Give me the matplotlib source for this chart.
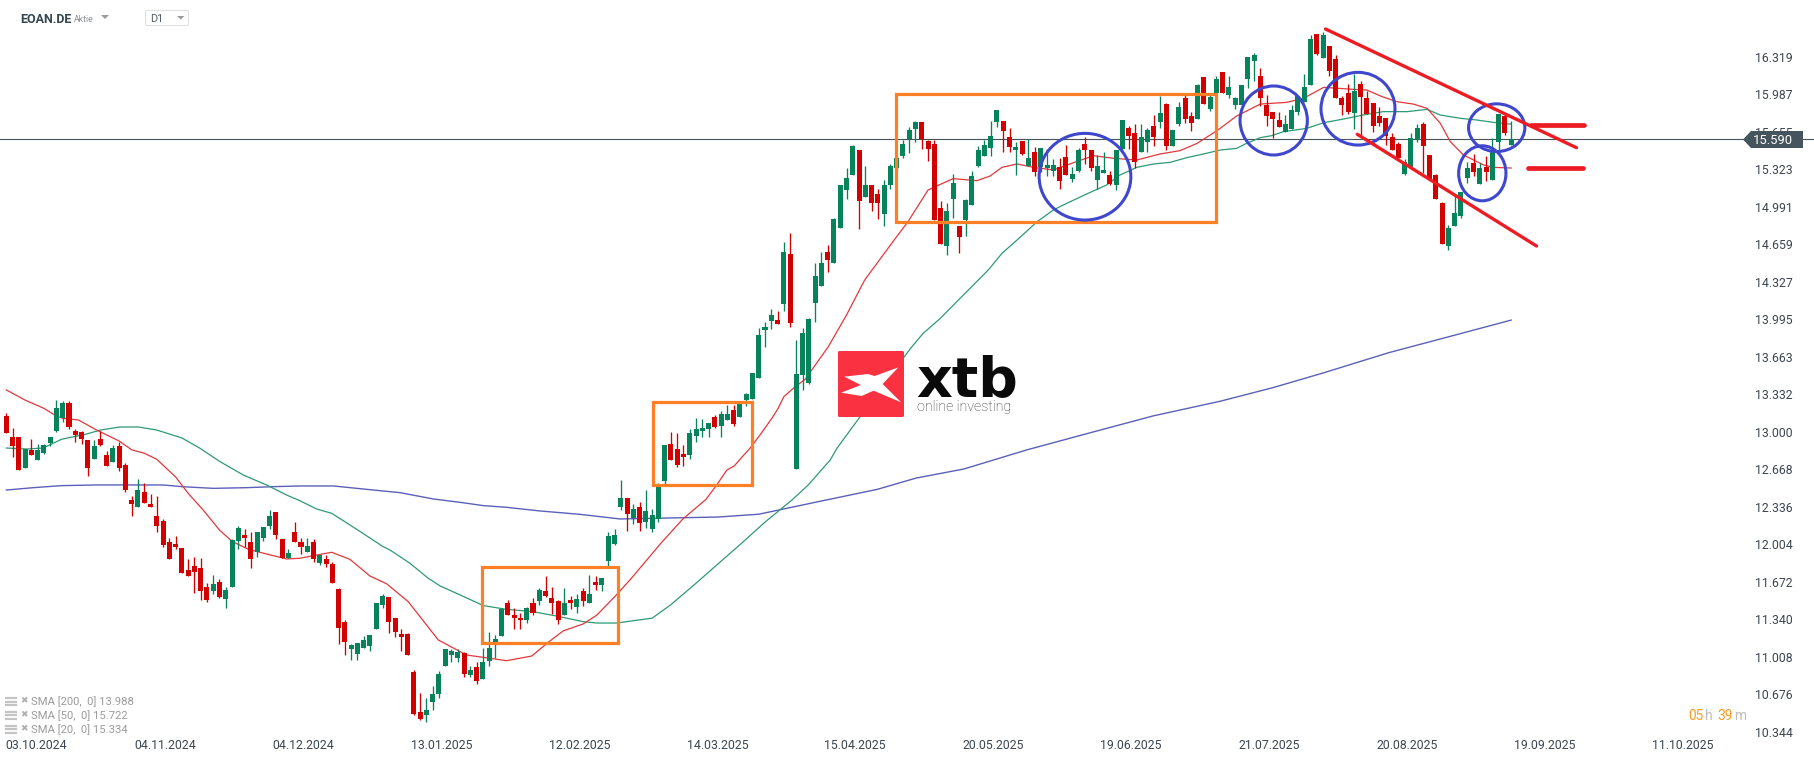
import matplotlib
matplotlib.use("Agg")
import matplotlib.pyplot as plt
from matplotlib.lines import Line2D
from matplotlib.patches import Ellipse, FancyBboxPatch, Polygon, Rectangle
from matplotlib.transforms import Affine2D

plt.rcParams['font.family'] = ['Roboto', 'DejaVu Sans']

# daily candles
opens = [13.14, 12.95, 12.95, 12.68, 12.84, 12.75, 12.81, 12.90, 13.01, 13.12,
         13.25, 13.01, 13.00, 12.93, 12.76, 12.94, 12.79, 12.73, 12.87, 12.71,
         12.40, 12.33, 12.47, 12.36, 12.25, 12.21, 12.02, 12.01, 11.97, 11.78,
         11.81, 11.79, 11.63, 11.59, 11.67, 11.52, 11.63, 12.03, 12.09, 12.02,
         11.94, 12.06, 12.17, 12.29, 12.05, 11.88, 12.11, 12.02, 11.94, 12.02,
         11.84, 11.87, 11.83, 11.61, 11.32, 11.08, 11.03, 11.09, 11.10, 11.25,
         11.47, 11.54, 11.35, 11.21, 11.21, 10.87, 10.52, 10.49, 10.61, 10.68,
         10.93, 11.02, 11.00, 11.04, 10.85, 10.92, 10.81, 10.97, 11.14, 11.19,
         11.48, 11.38, 11.35, 11.33, 11.48, 11.50, 11.59, 11.53, 11.50, 11.38,
         11.51, 11.45, 11.59, 11.48, 11.67, 11.64, 11.86, 12.01, 12.33, 12.41,
         12.24, 12.33, 12.20, 12.14, 12.23, 12.56, 12.89, 12.85, 12.80, 12.79,
         12.96, 13.01, 13.02, 13.13, 13.05, 13.10, 13.19, 13.13, 13.28, 13.29,
         13.48, 13.90, 13.98, 13.99, 14.13, 14.57, 12.67, 13.50, 13.43, 14.14,
         14.29, 14.59, 14.49, 14.80, 15.14, 15.27, 15.49, 15.08, 15.18, 15.10,
         14.93, 15.18, 15.33, 15.44, 15.59, 15.68, 15.74, 15.57, 15.55, 14.98,
         14.64, 15.06, 14.82, 14.87, 15.01, 15.35, 15.44, 15.51, 15.74, 15.75,
         15.61, 15.49, 15.57, 15.35, 15.48, 15.34, 15.33, 15.31, 15.34, 15.43,
         15.24, 15.31, 15.55, 15.49, 15.23, 15.29, 15.27, 15.18, 15.50, 15.69,
         15.64, 15.48, 15.56, 15.71, 15.74, 15.90, 15.53, 15.72, 15.95, 15.79,
         15.77, 16.14, 15.86, 16.00, 16.18, 15.98, 15.89, 15.89, 16.12, 16.28,
         16.15, 15.89, 15.83, 15.76, 15.65, 15.68, 15.83, 15.92, 16.07, 16.52,
         16.31, 16.41, 16.30, 15.95, 16.00, 15.82, 16.08, 15.95, 15.91, 15.79,
         15.78, 15.61, 15.55, 15.28, 15.34, 15.58, 15.72, 15.45, 15.27, 15.02,
         14.64, 14.82, 14.91, 15.25, 15.38, 15.19, 15.34, 15.23, 15.56, 15.79,
         15.54]
highs = [13.17, 13.03, 12.95, 12.85, 12.94, 12.89, 12.89, 12.95, 13.28, 13.27,
         13.27, 13.02, 13.01, 12.93, 12.93, 13.01, 12.83, 12.88, 12.91, 12.72,
         12.43, 12.58, 12.55, 12.45, 12.43, 12.23, 12.06, 12.08, 11.97, 11.87,
         11.89, 11.88, 11.66, 11.73, 11.70, 11.63, 12.05, 12.17, 12.14, 12.11,
         12.11, 12.16, 12.31, 12.29, 12.05, 11.96, 12.20, 12.06, 12.06, 12.05,
         11.91, 11.91, 11.85, 11.62, 11.33, 11.12, 11.13, 11.19, 11.20, 11.48,
         11.56, 11.54, 11.35, 11.25, 11.22, 10.89, 10.69, 10.64, 10.75, 10.88,
         11.08, 11.08, 11.08, 11.05, 10.93, 10.96, 11.09, 11.23, 11.20, 11.44,
         11.51, 11.44, 11.40, 11.45, 11.53, 11.62, 11.72, 11.63, 11.51, 11.62,
         11.55, 11.56, 11.62, 11.73, 11.72, 11.71, 12.11, 12.14, 12.57, 12.41,
         12.36, 12.38, 12.48, 12.32, 12.55, 12.88, 13.00, 12.99, 12.88, 13.02,
         13.12, 13.11, 13.08, 13.15, 13.18, 13.24, 13.24, 13.26, 13.34, 13.52,
         13.92, 13.97, 14.09, 14.07, 14.68, 14.76, 13.81, 13.92, 14.01, 14.49,
         14.59, 14.65, 14.89, 15.18, 15.33, 15.54, 15.49, 15.35, 15.18, 15.15,
         15.23, 15.37, 15.45, 15.58, 15.70, 15.75, 15.74, 15.58, 15.58, 15.04,
         15.02, 15.28, 14.82, 15.06, 15.31, 15.53, 15.58, 15.75, 15.85, 15.75,
         15.69, 15.56, 15.57, 15.59, 15.52, 15.51, 15.50, 15.41, 15.42, 15.54,
         15.34, 15.51, 15.61, 15.49, 15.45, 15.48, 15.31, 15.49, 15.76, 15.71,
         15.72, 15.72, 15.69, 15.80, 15.97, 15.91, 15.67, 15.92, 15.98, 15.83,
         16.08, 16.14, 15.98, 16.15, 16.18, 16.15, 15.96, 16.07, 16.32, 16.35,
         16.22, 15.98, 15.83, 15.83, 15.80, 15.89, 15.97, 16.17, 16.51, 16.52,
         16.54, 16.41, 16.33, 15.97, 16.08, 16.17, 16.10, 16.02, 15.91, 15.87,
         15.78, 15.64, 15.56, 15.41, 15.64, 15.72, 15.74, 15.45, 15.28, 15.03,
         14.83, 15.09, 15.12, 15.39, 15.46, 15.38, 15.44, 15.60, 15.81, 15.81,
         15.75]
lows = [12.99, 12.78, 12.66, 12.68, 12.79, 12.75, 12.80, 12.87, 13.00, 13.09,
        13.02, 12.91, 12.89, 12.61, 12.76, 12.87, 12.70, 12.73, 12.65, 12.47,
        12.25, 12.33, 12.37, 12.33, 12.11, 11.98, 11.87, 11.96, 11.75, 11.72,
        11.57, 11.51, 11.49, 11.56, 11.53, 11.44, 11.63, 11.96, 11.98, 11.79,
        11.89, 12.03, 12.14, 12.05, 11.88, 11.88, 12.02, 11.92, 11.94, 11.85,
        11.82, 11.80, 11.66, 11.12, 11.02, 10.98, 10.98, 11.09, 11.06, 11.25,
        11.44, 11.22, 11.18, 11.06, 11.02, 10.49, 10.45, 10.43, 10.54, 10.64,
        10.93, 10.96, 10.96, 10.83, 10.83, 10.77, 10.81, 10.93, 11.00, 11.19,
        11.38, 11.25, 11.25, 11.31, 11.38, 11.47, 11.54, 11.39, 11.30, 11.38,
        11.43, 11.40, 11.46, 11.48, 11.60, 11.59, 11.81, 12.00, 12.31, 12.12,
        12.18, 12.12, 12.15, 12.11, 12.20, 12.54, 12.75, 12.69, 12.70, 12.76,
        12.91, 12.95, 12.95, 13.03, 12.95, 13.10, 13.05, 13.13, 13.23, 13.29,
        13.48, 13.75, 13.91, 13.95, 14.07, 13.93, 12.67, 13.37, 13.42, 13.97,
        14.29, 14.41, 14.49, 14.80, 15.06, 15.27, 14.79, 15.08, 14.95, 14.88,
        14.82, 15.15, 15.30, 15.42, 15.47, 15.56, 15.50, 15.40, 14.87, 14.66,
        14.56, 14.89, 14.58, 14.73, 15.01, 15.34, 15.44, 15.44, 15.70, 15.48,
        15.48, 15.27, 15.45, 15.35, 15.26, 15.30, 15.26, 15.26, 15.15, 15.27,
        15.21, 15.30, 15.37, 15.31, 15.15, 15.29, 15.18, 15.14, 15.49, 15.50,
        15.33, 15.48, 15.48, 15.53, 15.69, 15.49, 15.53, 15.71, 15.73, 15.66,
        15.77, 15.90, 15.84, 16.00, 16.00, 15.95, 15.86, 15.89, 16.04, 16.10,
        15.88, 15.71, 15.60, 15.70, 15.65, 15.68, 15.80, 15.92, 16.07, 16.33,
        16.31, 16.15, 15.95, 15.80, 15.81, 15.68, 15.63, 15.81, 15.65, 15.71,
        15.54, 15.49, 15.42, 15.27, 15.34, 15.56, 15.29, 15.23, 15.06, 14.66,
        14.61, 14.82, 14.89, 15.20, 15.26, 15.19, 15.22, 15.23, 15.49, 15.63,
        15.54]
closes = [12.99, 12.87, 12.66, 12.85, 12.79, 12.84, 12.88, 12.95, 13.21, 13.25,
          13.04, 12.97, 12.94, 12.68, 12.87, 12.88, 12.70, 12.86, 12.68, 12.48,
          12.36, 12.48, 12.37, 12.33, 12.17, 12.00, 11.87, 11.98, 11.75, 11.72,
          11.76, 11.59, 11.51, 11.65, 11.54, 11.60, 12.04, 12.15, 12.06, 11.87,
          12.11, 12.16, 12.25, 12.09, 11.88, 11.93, 12.02, 11.98, 11.99, 11.87,
          11.91, 11.83, 11.66, 11.26, 11.14, 11.11, 11.13, 11.16, 11.20, 11.48,
          11.55, 11.32, 11.23, 11.18, 11.02, 10.50, 10.46, 10.54, 10.68, 10.86,
          11.08, 11.06, 11.05, 10.86, 10.89, 10.79, 10.96, 11.09, 11.17, 11.43,
          11.38, 11.35, 11.33, 11.44, 11.40, 11.60, 11.55, 11.48, 11.33, 11.48,
          11.48, 11.52, 11.50, 11.56, 11.64, 11.71, 12.08, 12.09, 12.41, 12.27,
          12.32, 12.19, 12.30, 12.26, 12.51, 12.88, 12.75, 12.71, 12.78, 12.99,
          13.02, 13.03, 13.08, 13.04, 13.16, 13.16, 13.07, 13.25, 13.33, 13.52,
          13.86, 13.93, 14.03, 13.95, 14.59, 13.96, 13.51, 13.87, 14.00, 14.38,
          14.49, 14.52, 14.88, 15.18, 15.25, 15.53, 15.04, 15.18, 15.02, 15.02,
          15.18, 15.35, 15.42, 15.55, 15.67, 15.74, 15.59, 15.50, 14.87, 14.66,
          14.95, 15.20, 14.72, 15.05, 15.26, 15.49, 15.54, 15.62, 15.85, 15.66,
          15.52, 15.52, 15.46, 15.42, 15.30, 15.51, 15.36, 15.36, 15.22, 15.27,
          15.28, 15.49, 15.49, 15.33, 15.35, 15.32, 15.19, 15.49, 15.76, 15.62,
          15.39, 15.61, 15.67, 15.61, 15.82, 15.53, 15.67, 15.87, 15.77, 15.73,
          16.07, 15.90, 15.96, 16.12, 16.00, 16.05, 15.95, 16.07, 16.32, 16.33,
          15.95, 15.79, 15.77, 15.70, 15.72, 15.85, 15.97, 16.05, 16.48, 16.34,
          16.51, 16.19, 15.95, 15.89, 15.83, 16.02, 15.96, 15.81, 15.71, 15.73,
          15.62, 15.49, 15.42, 15.39, 15.60, 15.69, 15.53, 15.23, 15.06, 14.66,
          14.80, 14.94, 15.12, 15.33, 15.30, 15.33, 15.30, 15.49, 15.81, 15.64,
          15.59]

# moving averages, read at the bar positions below
sma20_bars = [0, 3, 6, 8, 9, 11.5, 14.4, 18, 20, 22, 24, 27, 29, 31.4, 34, 36, 38.6, 41.5, 44.7, 46.8,
              49.5, 51.9, 54.8, 58, 60.7, 64.1, 68.9, 73.4, 79.8, 83.8, 86.4, 88.8, 92, 94.2, 97.3,
              99.6, 104.3, 107.9, 111.6, 113.3, 114.9, 116.1, 117.3, 118.6, 120.2, 122.1, 123.1, 124,
              125.5, 127.4, 131.1, 134, 136.9, 141.4, 143.8, 147, 148.4, 151, 154.8, 156.9, 158.8,
              161.2, 163.8, 167, 170.2, 173.4, 176.6, 180.3, 184, 187.2, 189.9, 192, 193.6, 196.2,
              200, 204.2, 206.9, 210.1, 212.2, 214.9, 217, 219.4, 221.8, 224.4, 226.6, 228.7, 230.3,
              232.4, 235.6, 237.2, 240]
sma20 = [13.37, 13.28, 13.207, 13.139, 13.119, 13.104, 13.015, 12.918, 12.84, 12.81, 12.756, 12.60,
         12.455, 12.307, 12.13, 12.03, 11.96, 11.918, 11.874, 11.88, 11.909, 11.933, 11.871, 11.723,
         11.653, 11.496, 11.157, 11.024, 10.974, 11.015, 11.135, 11.237, 11.299, 11.378, 11.556,
         11.697, 12.007, 12.228, 12.402, 12.529, 12.66, 12.697, 12.774, 12.853, 12.971, 13.119,
         13.207, 13.31, 13.384, 13.464, 13.753, 14.033, 14.343, 14.682, 14.859, 15.139, 15.175,
         15.24, 15.222, 15.263, 15.34, 15.37, 15.34, 15.317, 15.381, 15.443, 15.42, 15.405, 15.458,
         15.488, 15.552, 15.626, 15.685, 15.794, 15.90, 15.915, 15.951, 16.048, 16.04, 16.03, 16.024,
         15.966, 15.921, 15.90, 15.862, 15.73, 15.567, 15.449, 15.361, 15.34, 15.334]
sma50_bars = [0, 3.3, 5.9, 8.8, 12.8, 15, 18.1, 21.1, 24, 28, 30.9, 34.1, 37.8, 41.5, 44.7, 46.8, 49.5,
              51.9, 55.9, 60.1, 61.2, 64.4, 67.3, 69.2, 72.4, 76.1, 79.8, 84, 88.3, 92, 94.2, 97.3,
              103, 106, 109.7, 113.5, 117.2, 121, 125.3, 127.9, 131.4, 132.5, 136, 140, 144.1, 146.2,
              148.9, 152.1, 156.6, 158.8, 161.2, 164.4, 167, 169.1, 172.3, 175.5, 177.6, 180.3, 183,
              185.6, 188.3, 190.9, 193.6, 196.2, 197.8, 200, 201.8, 203.7, 207.4, 210.1, 213.3, 216.4,
              219.6, 223.4, 226.6, 228.7, 231.9, 234.5, 237.2, 240]
sma50 = [12.856, 12.847, 12.856, 12.933, 12.98, 13.015, 13.042, 13.042, 13.015, 12.945, 12.853, 12.735,
         12.617, 12.529, 12.44, 12.39, 12.316, 12.278, 12.136, 11.983, 11.953, 11.835, 11.703, 11.635,
         11.555, 11.461, 11.428, 11.408, 11.363, 11.319, 11.307, 11.307, 11.35, 11.47, 11.645, 11.83,
         12.01, 12.2, 12.396, 12.529, 12.75, 12.856, 13.12, 13.42, 13.73, 13.87, 14.0, 14.18, 14.431,
         14.579, 14.697, 14.859, 14.963, 15.021, 15.104, 15.184, 15.272, 15.34, 15.37, 15.384, 15.426,
         15.458, 15.493, 15.508, 15.552, 15.603, 15.62, 15.656, 15.685, 15.735, 15.768, 15.803, 15.833,
         15.833, 15.853, 15.803, 15.774, 15.759, 15.738, 15.722]
sma200_bars = [0, 4.3, 8.8, 14.4, 25, 28, 33, 38.3, 42.6, 46.8, 52.2, 57.5, 62.8, 68.1, 72.4, 76.1, 79.8,
               85.1, 91.5, 97.9, 105, 113.5, 120, 130, 138.9, 145.1, 152.7, 162.8, 172.8, 182.9, 193.6,
               202, 210, 220.5, 230, 240]
sma200 = [12.484, 12.505, 12.523, 12.529, 12.529, 12.514, 12.499, 12.505, 12.514, 12.52, 12.52, 12.49,
          12.461, 12.405, 12.375, 12.346, 12.331, 12.299, 12.269, 12.228, 12.236, 12.245, 12.27, 12.387,
          12.49, 12.59, 12.67, 12.84, 12.99, 13.14, 13.27, 13.39, 13.52, 13.70, 13.84, 13.988]

last_price = 15.59
price_ticks = [16.319, 15.987, 15.655, 15.323, 14.991, 14.659, 14.327, 13.995, 13.663, 13.332,
               13.000, 12.668, 12.336, 12.004, 11.672, 11.340, 11.008, 10.676, 10.344]
date_labels = ['03.10.2024', '04.11.2024', '04.12.2024', '13.01.2025', '12.02.2025', '14.03.2025',
               '15.04.2025', '20.05.2025', '19.06.2025', '21.07.2025', '20.08.2025', '19.09.2025',
               '11.10.2025']
date_bars = [4.7, 25.4, 47.4, 69.4, 91.4, 113.4, 135.4, 157.4, 179.4, 201.4, 223.4, 245.4, 267.4]
legend_rows = ['SMA [200,  0] 13.988', 'SMA [50,  0] 15.722', 'SMA [20,  0] 15.334']

GREEN = '#06835a'
RED = '#d20000'

fig = plt.figure(figsize=(18.15, 7.61), dpi=100)
ax = fig.add_axes([0, 0, 1, 1])
ax.set_xlim(-1.005, 288.46)
ax.set_ylim(10.086, 16.821)
for s in ax.spines.values():
    s.set_visible(False)

# screen coordinates for what was drawn by hand on top of the chart
px = Affine2D().scale(1, -1).translate(0, 761)

ax.axhline(last_price, color='#46515a', lw=0.8, zorder=1.5)
ax.plot(sma200_bars, sma200, color='#5c60b8', lw=1.0, zorder=2)
ax.plot(sma50_bars, sma50, color='#2e9a74', lw=0.9, zorder=2)
ax.plot(sma20_bars, sma20, color='#e2383c', lw=0.9, zorder=2)

bars = list(range(len(opens)))
colors = [GREEN if c >= o else RED for o, c in zip(opens, closes)]
ax.vlines(bars, lows, highs, colors=colors, lw=0.95, zorder=3)
ax.bar(bars, [abs(c - o) for o, c in zip(opens, closes)], bottom=[min(o, c) for o, c in zip(opens, closes)],
       width=0.8, color=colors, linewidth=0, zorder=3)

ax.set_xticks(date_bars)
ax.set_xticklabels(date_labels)
ax.set_yticks(price_ticks)
ax.set_yticklabels(['%.3f' % p for p in price_ticks])
ax.yaxis.tick_right()
ax.tick_params(axis='x', length=0, pad=-15.5, labelsize=8.8, labelcolor='#3c454f')
ax.tick_params(axis='y', length=0, pad=-43.2, labelsize=8.8, labelcolor='#3c454f')

# orange boxes
for x0, y0, x1, y1 in [(482.3, 567.3, 618.3, 643.3), (653.3, 401.7, 752.3, 485.3), (895.7, 94.3, 1215.7, 222.3)]:
    ax.add_patch(Rectangle((x0, y0), x1 - x0, y1 - y0, transform=px, fill=False, ec='#ff7f27', lw=2.3,
                           joinstyle='miter', zorder=5))

# blue circles
for cx, cy, w, h in [(1085, 176.7, 91.7, 86.7), (1273.7, 120.5, 67.3, 69), (1358, 108.7, 74, 72.7),
                     (1496.7, 127.7, 56.3, 47.7), (1482.3, 173.3, 47.3, 55)]:
    ax.add_patch(Ellipse((cx, cy), w, h, transform=px, fill=False, ec='#3f48cc', lw=2.2, zorder=6))

# red channel and level marks
for xs, ys, w in [((1325.5, 1576.5), (29, 147.7), 2.4), ((1357.3, 1536.5), (134.3, 246), 2.4),
                  ((1531, 1584), (125.3, 125.3), 3.4), ((1528, 1583), (168.3, 168.3), 3.4)]:
    ax.add_line(Line2D(xs, ys, transform=px, color='#ed1c24', lw=w, solid_capstyle='round', zorder=7))

# last price tag
ax.add_patch(Polygon([(1743, 139.5), (1751, 131), (1803, 131), (1803, 148), (1751, 148)], transform=px,
                     fc='#46545e', ec='none', zorder=8))
ax.text(1773, 140, '%.3f' % last_price, transform=px, color='white', fontsize=9.4, ha='center', va='center', zorder=9)

# logo
ax.add_patch(FancyBboxPatch((838, 351), 66, 66, boxstyle='round,pad=0,rounding_size=1.5', transform=px,
                            fc='#f93140', ec='none', zorder=8))
xshape = [(618, 860), (678, 852), (695, 858), (755, 832), (715, 882), (762, 937), (692, 902), (662, 918),
          (610, 908), (660, 885)]
ax.add_patch(Polygon([(600 + a / 2.53, 90 + b / 3) for a, b in xshape], transform=px, fc='white', ec='none', zorder=9))
ax.text(916, 396, 'xtb', transform=px, family='DejaVu Sans', fontweight='bold', fontsize=40, color='#0a0a0a',
        ha='left', va='baseline', zorder=8)
ax.text(917, 407.5, 'online investing', transform=px, fontsize=10.3, fontweight='light', color='#333333',
        ha='left', va='center', zorder=8)

# header
ax.text(20, 19.5, 'EOAN.DE', transform=px, fontsize=9, fontweight='bold', color='#37474f', va='center')
ax.text(73.5, 19.5, 'Aktie', transform=px, fontsize=6.3, color='#8a8f94', va='center')
ax.add_patch(Polygon([(101, 15), (109, 15), (105, 19)], transform=px, fc='#9a9a9a', ec='none'))
ax.add_patch(FancyBboxPatch((145.5, 10.5), 43, 15, boxstyle='round,pad=0,rounding_size=1.5', transform=px,
                            fc='white', ec='#e0e0e0', lw=0.8))
ax.text(150.5, 19.5, 'D1', transform=px, fontsize=7.8, color='#555d63', va='center')
ax.add_patch(Polygon([(177, 16), (184.5, 16), (180.7, 19.5)], transform=px, fc='#9a9a9a', ec='none'))

# indicator legend
for row, label in zip([701.7, 715.3, 729.3], legend_rows):
    for dy in (-3.5, 0, 3.5):
        ax.add_line(Line2D((6, 16), (row + dy, row + dy), transform=px, color='#c4c4c4', lw=1.6))
    ax.text(24, row - 0.5, '\u2716', transform=px, family='DejaVu Sans', fontsize=6.5, color='#b0b0b0',
            ha='center', va='center')
    ax.text(31, row, label, transform=px, fontsize=8.1, color='#9b9b9b', va='center')

# countdown
for x, s, c in [(1688, '05', '#ff9a1f'), (1705.5, 'h', '#bdbdbd'), (1717.5, '39', '#ff9a1f'), (1734, 'm', '#bdbdbd')]:
    ax.text(x, 716, s, transform=px, fontsize=9.9, color=c, ha='left', va='center')

fig.savefig('out.png', dpi=100, facecolor='white')
